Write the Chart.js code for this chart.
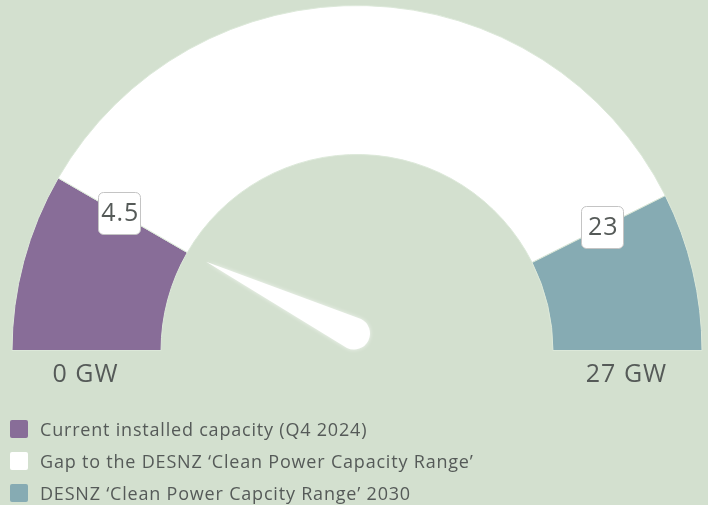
<!DOCTYPE html>
<html>
<head>
<meta charset="utf-8">
<script src="https://cdn.jsdelivr.net/npm/chart.js@4/dist/chart.umd.min.js"></script>
<style>
  html, body { margin: 0; padding: 0; background: #d3e0cf; }
  #wrap { position: relative; width: 708px; height: 505px; }
  #gauge { position: absolute; left: 0; top: 0; }
  #legend { position: absolute; left: 10px; top: 418px; font-family: "Open Sans", sans-serif; font-size: 18px; letter-spacing: 0.8px; color: #555a58; }
  #legend div { height: 32px; display: flex; align-items: flex-start; line-height: 22px; }
  #legend span.box { width: 18px; height: 18px; border-radius: 2px; margin-right: 12px; margin-top: 2px; }
</style>
</head>
<body>
<div id="wrap">
  <canvas id="gauge" width="708" height="505"></canvas>
  <div id="legend"></div>
</div>
<script>
// gauge data (GW)
const segmentLabels = [
    "Current installed capacity (Q4 2024)",
    "Gap to the DESNZ \u2018Clean Power Capacity Range\u2019",
    "DESNZ \u2018Clean Power Capcity Range\u2019 2030"
];
const segmentValues = [4.5, 18.5, 4];
const segmentColors = ['#886d98', '#ffffff', '#86abb3'];
const boundaryValues = [4.5, 23];
const gaugeMin = 0;
const gaugeMax = 27;
const needleValue = 4.5;
const endLabels = ['0 GW', '27 GW'];

const textColor = '#555a58';
const fontFamily = '"Open Sans", sans-serif';

// --- legend (html) ---
const legendEl = document.getElementById('legend');
segmentLabels.forEach((lbl, i) => {
    const row = document.createElement('div');
    const box = document.createElement('span');
    box.className = 'box';
    box.style.background = segmentColors[i];
    const txt = document.createElement('span');
    txt.textContent = lbl;
    row.appendChild(box);
    row.appendChild(txt);
    legendEl.appendChild(row);
});

// value -> angle on the half circle (canvas radians)
function valueAngle(v) {
    return Math.PI + (v - gaugeMin) / (gaugeMax - gaugeMin) * Math.PI;
}

const gaugeExtras = {
    id: 'gaugeExtras',
    afterDatasetsDraw(chart) {
        const arc = chart.getDatasetMeta(0).data[0];
        const cx = arc.x, cy = arc.y;
        const rOut = arc.outerRadius, rIn = arc.innerRadius;
        const ctx = chart.ctx;

        // needle: pivot a bit above centre, aiming at the value on the inner edge
        const px = cx - 3, py = cy - 17;
        const a = valueAngle(needleValue);
        const tx = cx + rIn * Math.cos(a), ty = cy + rIn * Math.sin(a);
        const ang = Math.atan2(ty - py, tx - px);
        const len = Math.hypot(tx - px, ty - py) - 21;
        const w = 16;
        ctx.save();
        ctx.translate(px, py);
        ctx.rotate(ang);
        ctx.shadowColor = 'rgba(255,255,255,0.7)';
        ctx.shadowBlur = 4;
        ctx.fillStyle = '#ffffff';
        ctx.beginPath();
        ctx.moveTo(len, 0);
        ctx.lineTo(0, -w);
        ctx.arc(0, 0, w, -Math.PI / 2, Math.PI / 2, true);
        ctx.closePath();
        ctx.fill();
        ctx.restore();

        // boundary value boxes
        const rMid = (rOut + rIn) / 2;
        const rLab = rMid + 4;
        ctx.save();
        ctx.font = '25px ' + fontFamily;
        ctx.letterSpacing = '1px';
        ctx.textAlign = 'center';
        ctx.textBaseline = 'middle';
        boundaryValues.forEach(v => {
            const b = valueAngle(v);
            const x = cx + rLab * Math.cos(b);
            const y = cy + rLab * Math.sin(b);
            const txt = String(v);
            const bw = 42, bh = 42;
            ctx.fillStyle = '#ffffff';
            ctx.strokeStyle = '#c4c4c4';
            ctx.lineWidth = 1;
            ctx.beginPath();
            ctx.roundRect(Math.round(x - bw / 2) + 0.5, Math.round(y - bh / 2) + 0.5, bw, bh, 5);
            ctx.fill();
            ctx.stroke();
            ctx.fillStyle = textColor;
            ctx.fillText(txt, x + 1, y + 1);
        });

        // end labels under the arc ends
        [gaugeMin, gaugeMax].forEach((v, i) => {
            const b = valueAngle(v);
            const x = cx + rMid * Math.cos(b);
            ctx.fillText(endLabels[i], x - 1, cy + 24);
        });
        ctx.restore();
    }
};

new Chart(document.getElementById('gauge'), {
    type: 'doughnut',
    data: {
        labels: segmentLabels,
        datasets: [{
            data: segmentValues,
            backgroundColor: segmentColors,
            borderColor: '#dce8d9',
            borderWidth: 1
        }]
    },
    options: {
        responsive: false,
        animation: false,
        circumference: 180,
        rotation: -90,
        cutout: '56.8%',
        layout: { padding: { left: 11, right: 5, top: 5, bottom: 154 } },
        events: [],
        plugins: {
            legend: { display: false },
            tooltip: { enabled: false }
        }
    },
    plugins: [gaugeExtras]
});
</script>
</body>
</html>
